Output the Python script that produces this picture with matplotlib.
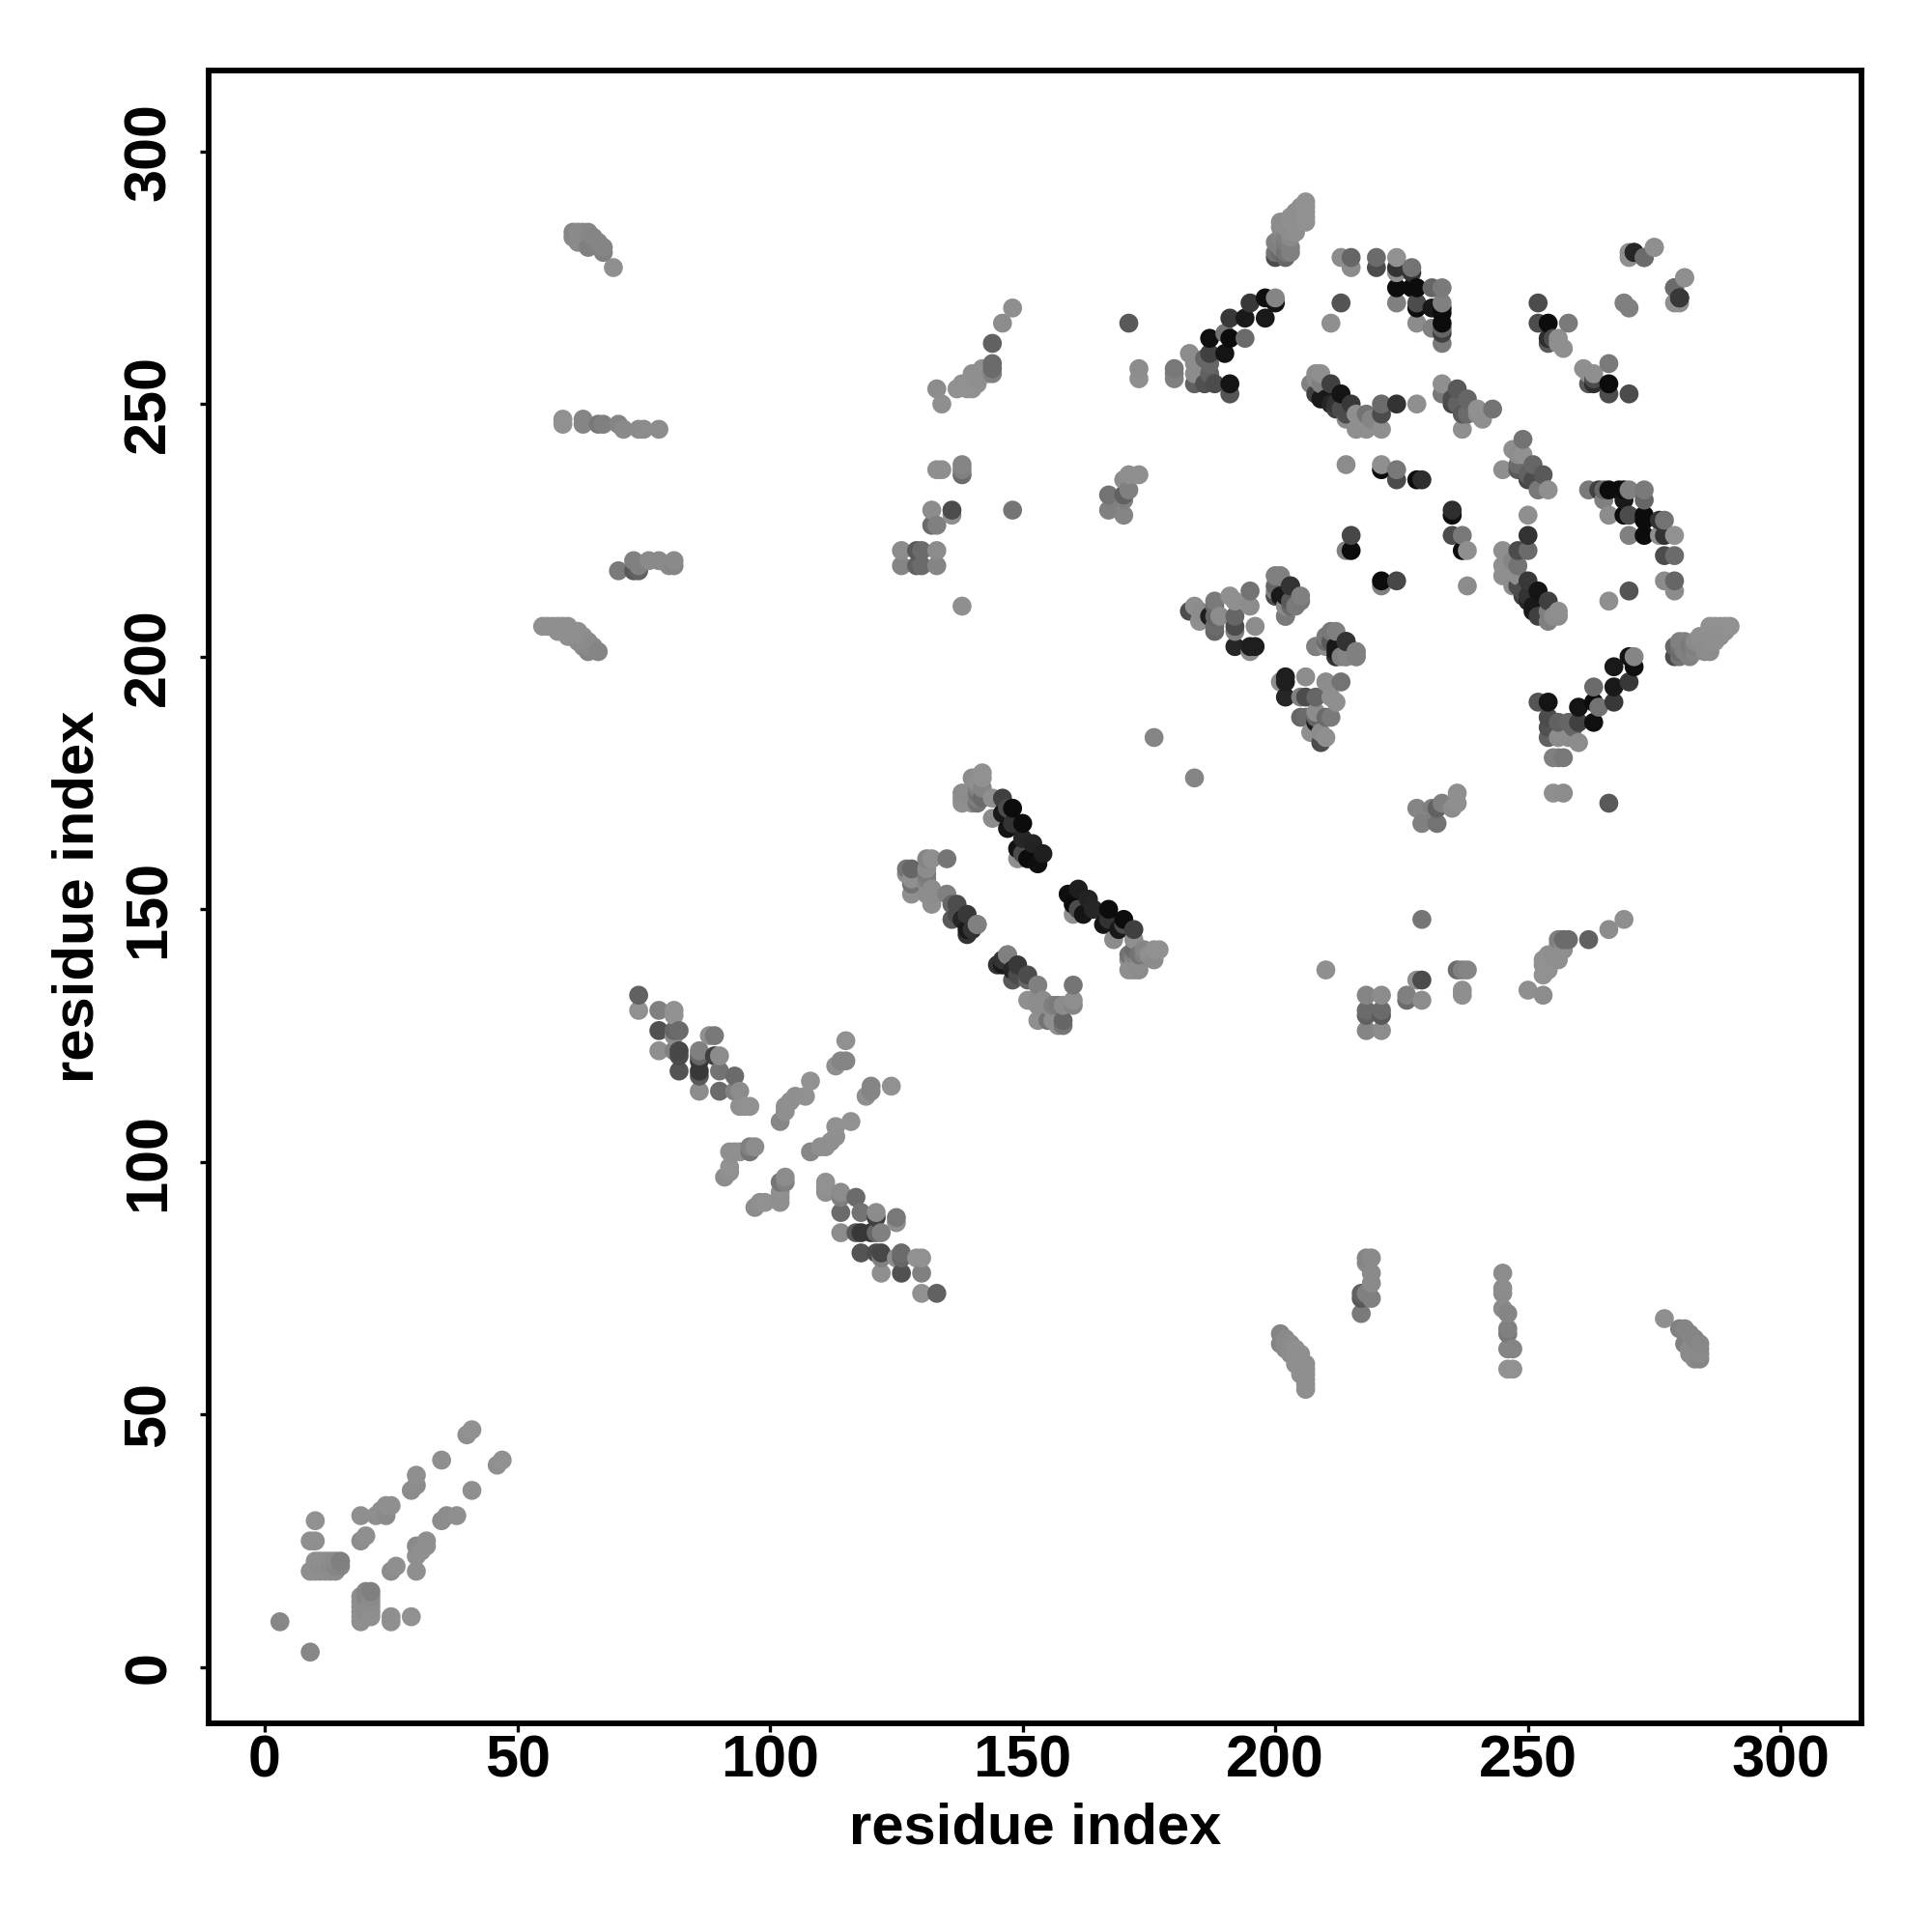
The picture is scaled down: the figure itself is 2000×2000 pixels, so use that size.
import numpy as np
import matplotlib
matplotlib.use("Agg")
import matplotlib.pyplot as plt

# contacts in the upper triangle (i, j, grey level); the map is symmetric
near_diag_a = [(3,9,.53),(10,29,.57),(9,25,.56),(10,25,.56),(9,19,.56),(10,19,.56),(11,19,.56),(12,19,.56),(13,19,.55),(14,19,.55),
  (10,21,.56),(11,21,.56),(12,21,.56),(13,21,.55),(14,21,.54),(15,21,.5),(11,20,.55),(12,20,.55),(13,20,.54),(14,20,.52),(15,20,.52),
  (19,25,.55),(20,26,.56),(19,30,.56),(22,30,.56),(24,30,.54),(23,31,.56),(24,32,.56),(25,32,.56),(29,35,.55),(30,36,.55),(30,38,.56),
  (35,41,.56),(40,46,.56),(41,47,.57)]
cross_arm_a = [(74,133,.38),(74,130,.57),(78,130,.5),(81,130,.57),(81,129,.57),(78,126,.32),(81,126,.4),(82,126,.42),(81,125,.55),
  (78,122,.56),(81,122,.5),(82,122,.28),(82,121,.3),(82,118,.33),(86,122,.5),(86,121,.4),(86,120,.22),(86,118,.22),(86,117,.35),(86,114,.55),
  (88,125,.56),(89,125,.47),(89,121,.25),(90,121,.55),(90,118,.45),(90,114,.42),(93,117,.42),(93,114,.5),(94,114,.55),(94,111,.56),(95,111,.57),(96,111,.57)]
cross_arm_b = [(91,97,.55),(92,98,.56),(92,99,.57),(92,102,.56),(93,102,.56),(94,102,.56),(96,102,.46),(96,103,.5),(97,103,.55),
  (102,108,.53),(103,110,.56),(103,111,.56),(104,112,.56),(105,113,.56),(107,113,.57),(108,116,.57),(113,119,.56),(114,120,.52),(115,120,.52),(115,124,.57)]
strand_206 = [(55,206,.56),(56,206,.56),(57,206,.56),(58,206,.56),(59,206,.56),(60,206,.56),(58,205,.56),(59,205,.56),(60,205,.56),(61,205,.56),
  (62,205,.56),(60,204,.56),(61,204,.56),(62,204,.56),(63,204,.56),(62,203,.55),(63,203,.55),(64,203,.55),(63,202,.54),(64,202,.54),(65,202,.54),(64,201,.52),(66,201,.52)]
strand_218 = [(70,217,.48),(73,217,.35),(74,217,.38),(73,219,.5),(74,218,.5),(76,219,.54),(78,219,.54),(80,218,.54),(81,219,.54),(81,218,.52)]
strand_246 = [(59,247,.57),(59,246,.57),(63,247,.52),(63,246,.52),(66,246,.47),(67,246,.5),(70,246,.52),(71,245,.54),(74,245,.54),(75,245,.55),(78,245,.55)]
strand_284 = [(61,284,.52),(62,284,.54),(63,284,.54),(64,284,.53),(61,283,.54),(62,282,.54),(63,282,.54),(64,281,.5),(65,283,.52),(66,282,.52),(67,281,.52),(67,280,.5),(69,277,.56)]
block_g = [(126,221,.55),(126,218,.52),(129,218,.38),(130,218,.42),(129,221,.35),(130,221,.42),(133,218,.52),(133,221,.55),(132,226,.42),(133,226,.5),
  (132,229,.55),(136,229,.3),(136,228,.56),(133,237,.56),(134,237,.56),(138,238,.52),(138,237,.5),(138,236,.42),(138,210,.56),(148,229,.46)]
strand_h = [(133,253,.55),(134,250,.56),(137,253,.57),(138,254,.57),(139,253,.57),(139,254,.57),(140,253,.57),(141,254,.57),(141,255,.56),(140,256,.56),(142,256,.56),(142,257,.56),(143,256,.56),(143,257,.56),
  (144,258,.42),(144,257,.42),(144,256,.5),(144,262,.38),(146,266,.55),(148,269,.56)]
strand_i = [(138,172,.56),(138,173,.55),(138,171,.56),(139,172,.56),(139,173,.55),(140,172,.55),(140,173,.55),(140,176,.55),(142,177,.57),(142,176,.57),(140,171,.56),(141,171,.45),(141,172,.5),(141,173,.45),(141,174,.5),(141,175,.56),(142,172,.42),(142,174,.52),(144,172,.56),(146,172,.25),
  (148,170,.05),(150,167,.05),(147,166,.08),(144,168,.55),(149,162,.08),(152,163,.14),(154,161,.12),(149,160,.56),(151,160,.05),(153,159,.06),(146,169,.1),(147,170,.3),(148,167,.2),(150,164,.15),(150,161,.3)]
strand_j = [(127,158,.46),(127,157,.56),(128,158,.4),(131,160,.52),(132,160,.56),(135,160,.46),(128,156,.56),(128,155,.45),(128,153,.56),(131,158,.55),(131,157,.48),(131,156,.5),(131,155,.55),(131,153,.55),
  (132,154,.55),(132,153,.55),(132,151,.56),(135,153,.5),(136,148,.35),(136,151,.4),(137,151,.3),(139,149,.22),(141,147,.5),(137,149,.3),(139,146,.1),(140,146,.2),(138,148,.15),(139,145,.2),(141,147,.5)]
block_k = [(167,229,.5),(167,232,.45),(170,232,.38),(170,228,.52),(170,231,.5),(170,235,.55),(171,236,.56),(173,236,.56),(171,233,.5),(171,266,.35),
  (173,257,.55),(173,255,.56),(176,184,.52)]
strand_m = [(180,257,.47),(180,256,.5),(180,255,.5),(183,260,.55),(184,258,.55),(184,256,.55),(184,254,.38),(186,259,.4),(187,260,.25),(187,258,.4),(187,256,.38),
  (186,254,.32),(188,254,.3),(191,254,.08),(191,252,.33),(190,260,.08),(187,263,.06),(191,263,.05),(190,264,.45),(194,263,.42),(191,267,.22),(194,267,.1),
  (195,270,.22),(198,267,.1),(198,271,.06),(200,271,.52),(200,270,.08)]
block_n = [(200,280,.45),(200,279,.3),(200,282,.5),(201,280,.42),(201,281,.5),(201,283,.52),(201,285,.54),(201,286,.55),(202,279,.4),(202,280,.45),(202,282,.48),(202,283,.5),(202,285,.55),(203,284,.55),(203,286,.56),(203,287,.56),(203,283,.54),(203,281,.5),(203,280,.5),
  (204,288,.56),(204,287,.56),(204,286,.56),(204,284,.56),(205,289,.56),(205,287,.56),(206,290,.57),(206,289,.57),(206,288,.57),(206,287,.57),(206,286,.57)]
block_o = [(213,279,.55),(215,279,.4),(215,277,.55),(220,279,.42),(220,277,.3),(224,279,.57),(224,277,.2),(224,276,.56),(227,277,.45),(227,276,.2),(224,273,.05),
  (227,273,.05),(228,273,.05),(231,273,.4),(233,273,.48),(224,270,.5),(228,270,.3),(228,269,.05),(231,269,.1),(233,270,.5),(233,269,.05),(233,268,.05),(233,266,.05),(233,265,.4),(231,265,.5),(233,264,.25),
  (228,266,.55),(233,262,.48),(213,270,.33),(211,266,.56)]
block_p = [(252,270,.3),(252,266,.3),(254,266,.05),(258,266,.48),(254,263,.18),(254,262,.35),(255,263,.3),(256,263,.56),(256,262,.56),(257,261,.56),(270,280,.56),(271,280,.22),(273,279,.42),(275,281,.56),
  (279,273,.42),(281,275,.56),(279,270,.56),(280,271,.15),(269,270,.5)]
strand_q = [(209,256,.56),(208,256,.55),(207,254,.5),(208,255,.55),(209,254,.5),(211,254,.25),(213,252,.08),(209,251,.1),(210,251,.1),(211,250,.15),(212,250,.2),(215,250,.22),(212,249,.25),(213,249,.3),(214,248,.3),(208,252,.25),(214,247,.55),(216,248,.56),(218,248,.45),(216,245,.56),
  (218,245,.56),(219,247,.52),(221,250,.42),(221,248,.3),(221,245,.56),(224,250,.2),(228,250,.56)]
strand_r = [(233,254,.56),(233,252,.47),(236,253,.35),(235,250,.28),(238,251,.4),(237,248,.35),(237,245,.56),(240,249,.57),(241,247,.56),(240,248,.55),(243,249,.45),
  (238,248,.42),(236,250,.38),(235,251,.3)]
block_s = [(214,238,.55),(221,238,.56),(221,237,.05),(224,237,.47),(224,235,.3),(228,235,.05),(229,235,.18),(215,224,.28),(215,221,.05),(214,221,.5)]
block_t = [(184,210,.56),(185,209,.55),(185,207,.56),(183,209,.3),(188,211,.48),(188,210,.42),(187,208,.12),(188,208,.4),(188,206,.42),(188,205,.4),(189,208,.55),(191,212,.56),(192,211,.56),(192,208,.4),
  (192,206,.3),(192,205,.5),(195,213,.45),(195,210,.55),(196,206,.55),(192,202,.15),(195,202,.12),(196,202,.12),(195,201,.55)]
block_u = [(200,216,.5),(201,216,.5),(200,214,.52),(200,213,.5),(200,212,.2),(202,212,.1),(203,214,.2),(205,212,.5),(203,211,.35),(202,208,.5),(202,210,.55),
  (208,202,.48),(211,205,.47),(210,203,.42),(210,204,.48),(214,203,.2),(212,201,.1),(216,201,.5),(214,200,.4),(216,200,.5),(212,200,.3)]

tick_values = [0, 50, 100, 150, 200, 250, 300]
axis_label = "residue index"

contacts = np.array(near_diag_a + cross_arm_a + cross_arm_b + strand_206 + strand_218 + strand_246 + strand_284
                    + block_g + strand_h + strand_i + strand_j + block_k + strand_m + block_n + block_o + block_p
                    + strand_q + strand_r + block_s + block_t + block_u)
xs = np.concatenate([contacts[:, 0], contacts[:, 1]])
ys = np.concatenate([contacts[:, 1], contacts[:, 0]])
gs = np.concatenate([contacts[:, 2], contacts[:, 2]])
order = np.lexsort((ys, xs))

plt.rcParams['font.family'] = ['Liberation Sans', 'DejaVu Sans']
fig = plt.figure(figsize=(20, 20), dpi=100)
ax = fig.add_axes([216/2000, 1 - 1784/2000, 1711/2000, 1711/2000])
ax.scatter(xs[order], ys[order], c=gs[order], cmap='gray', vmin=0, vmax=1, s=200, linewidths=0, zorder=3)
ax.set_xlim(-11.1, 316)
ax.set_ylim(-11.1, 316)
ax.set_xticks(tick_values)
ax.set_yticks(tick_values)
ax.tick_params(axis='both', length=6.3, width=2.4, labelsize=44)
ax.tick_params(axis='x', pad=2.2)
ax.tick_params(axis='y', pad=17)
for t in ax.get_xticklabels():
    t.set_fontweight('bold')
for t in ax.get_yticklabels():
    t.set_fontweight('bold')
    t.set_rotation(90)
    t.set_va('center')
for s in ax.spines.values():
    s.set_linewidth(4.2)
ax.set_xlabel(axis_label, fontsize=43, fontweight='bold', labelpad=9)
ax.set_ylabel(axis_label, fontsize=43, fontweight='bold', labelpad=13)
fig.savefig("out.png", dpi=100, facecolor='white')
